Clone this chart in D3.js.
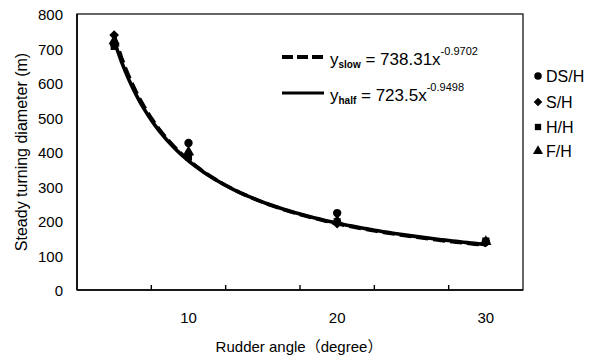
<!DOCTYPE html>
<html>
<head>
<meta charset="utf-8">
<script src="https://cdn.jsdelivr.net/npm/d3@7"></script>
<style>
  html, body { margin: 0; padding: 0; background: #fff; }
  svg { display: block; }
  text { font-family: "Liberation Sans", Arial, "Noto Sans CJK JP", sans-serif; fill: #000; }
</style>
</head>
<body>
<svg id="chart" width="601" height="360"></svg>
<script>
// data
const angles = [5, 10, 20, 30];
const seriesNames = ["DS/H", "S/H", "H/H", "F/H"];
const dshValues = [712, 426, 223, 140];
const shValues = [739, 392, 192, 138];
const hhValues = [706, 385, 198, 142];
const fhValues = [722, 400, 200, 140];

// power fits shown in the chart, x = rudder angle / 5
const fitLabels = ["slow", "half"];
const fitCoef = [738.31, 723.5];
const fitExp = [-0.9702, -0.9498];
const fitExpText = ["-0.9702", "-0.9498"];
const fitCoefText = ["738.31", "723.5"];

const yTicks = [0, 100, 200, 300, 400, 500, 600, 700, 800];
const xLabels = [10, 20, 30];
const xTickMarks = [7.5, 12.5, 17.5, 22.5, 27.5];

const svg = d3.select("#chart");
const plot = { left: 77, top: 14, right: 523, bottom: 290 };

const x = d3.scaleLinear().domain([2.5, 32.5]).range([plot.left, plot.right]);
const y = d3.scaleLinear().domain([0, 800]).range([plot.bottom, plot.top]);

// frame
svg.append("rect")
  .attr("x", plot.left).attr("y", plot.top)
  .attr("width", plot.right - plot.left).attr("height", plot.bottom - plot.top)
  .attr("fill", "none").attr("stroke", "#000").attr("stroke-width", 1.2);

// axes lines a bit heavier
svg.append("line")
  .attr("x1", plot.left).attr("x2", plot.left)
  .attr("y1", plot.top).attr("y2", plot.bottom)
  .attr("stroke", "#000").attr("stroke-width", 1.6);
svg.append("line")
  .attr("x1", plot.left).attr("x2", plot.right)
  .attr("y1", plot.bottom).attr("y2", plot.bottom)
  .attr("stroke", "#000").attr("stroke-width", 1.6);

// x tick marks (inside, no labels)
svg.append("g")
  .selectAll("line")
  .data(xTickMarks)
  .join("line")
  .attr("x1", d => x(d)).attr("x2", d => x(d))
  .attr("y1", plot.bottom).attr("y2", plot.bottom - 5)
  .attr("stroke", "#000").attr("stroke-width", 1.4);

// x labels, centred on the data columns
svg.append("g")
  .selectAll("text")
  .data(xLabels)
  .join("text")
  .attr("x", d => x(d)).attr("y", 323)
  .attr("text-anchor", "middle")
  .style("font-size", "15px")
  .text(d => d);

// y labels
svg.append("g")
  .selectAll("text")
  .data(yTicks)
  .join("text")
  .attr("x", 63).attr("y", d => y(d) + 6)
  .attr("text-anchor", "end")
  .style("font-size", "15px")
  .text(d => d);

// axis titles
svg.append("text")
  .attr("transform", `translate(27,${(plot.top + plot.bottom) / 2}) rotate(-90)`)
  .attr("text-anchor", "middle")
  .style("font-size", "16px")
  .text("Steady turning diameter (m)");

svg.append("text")
  .attr("x", 299).attr("y", 352)
  .attr("text-anchor", "middle")
  .style("font-size", "15px")
  .text("Rudder angle（degree）");

// fitted curves
const curveLine = d3.line()
  .x(d => x(d[0]))
  .y(d => y(d[1]))
  .curve(d3.curveLinear);

fitCoef.forEach((a, i) => {
  const pts = d3.range(angles[0], angles[angles.length - 1] + 0.01, 0.25)
    .map(t => [t, a * Math.pow(t / 5, fitExp[i])]);
  svg.append("path")
    .datum(pts)
    .attr("d", curveLine)
    .attr("fill", "none")
    .attr("stroke", "#000")
    .attr("stroke-width", 3.6)
    .attr("stroke-dasharray", i === 0 ? "12,5" : null);
});

// markers
const symbolTypes = [d3.symbolCircle, d3.symbolDiamond2 || d3.symbolDiamond, d3.symbolSquare, d3.symbolTriangle];
const symbolSizes = [55, 60, 50, 55];
const allSeries = [dshValues, shValues, hhValues, fhValues];

allSeries.forEach((vals, i) => {
  svg.append("g")
    .selectAll("path")
    .data(vals.map((v, j) => [angles[j], v]))
    .join("path")
    .attr("transform", d => `translate(${x(d[0])},${y(d[1])})`)
    .attr("d", d3.symbol().type(symbolTypes[i]).size(symbolSizes[i]))
    .attr("fill", "#000");
});

// equation legend inside the plot
const eqRows = [57, 93];
fitLabels.forEach((lab, i) => {
  const yy = eqRows[i];
  svg.append("line")
    .attr("x1", 282).attr("x2", 324)
    .attr("y1", yy).attr("y2", yy)
    .attr("stroke", "#000")
    .attr("stroke-width", i === 0 ? 4 : 3)
    .attr("stroke-dasharray", i === 0 ? "11,4" : null);
  const t = svg.append("text")
    .attr("x", 330).attr("y", yy + 8)
    .style("font-size", "17px");
  t.append("tspan").text("y");
  t.append("tspan").attr("dy", 3).style("font-size", "10px").style("font-weight", "bold").text(lab);
  t.append("tspan").attr("dy", -3).text(` = ${fitCoefText[i]}x`);
  t.append("tspan").attr("dy", -10).style("font-size", "11px").text(fitExpText[i]);
});

// series legend outside the plot
const legendRows = [76, 102, 127, 151];
seriesNames.forEach((name, i) => {
  svg.append("path")
    .attr("transform", `translate(538,${legendRows[i]})`)
    .attr("d", d3.symbol().type(symbolTypes[i]).size(symbolSizes[i] * 0.8))
    .attr("fill", "#000");
  svg.append("text")
    .attr("x", 546).attr("y", legendRows[i] + 6)
    .style("font-size", "16px")
    .text(name);
});
</script>
</body>
</html>
